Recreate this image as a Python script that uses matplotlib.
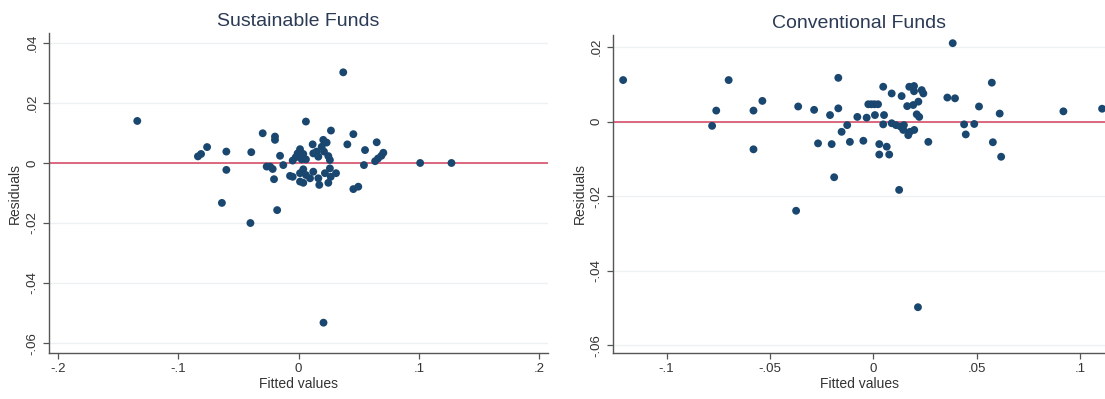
import numpy as np
import matplotlib
matplotlib.use('Agg')
import matplotlib.pyplot as plt

plt.rcParams['font.family'] = ['Liberation Sans', 'DejaVu Sans']

# Sustainable funds: fitted values / residuals
sus_fit = [-0.134, 0.0371, 0.0061, -0.0298, -0.0196, -0.0196, 0.0269, 0.0455, 0.0405,
           0.0649, 0.0552, 0.0543, -0.0393, -0.0154, -0.0127, -0.0265, -0.0237, -0.0215,
           -0.0204, 0.0117, 0.0205, 0.0233, 0.0192, 0.015, 0.0211, 0.0247, 0.0164, 0.026,
           0.0122, 0.0012, -0.0008, 0.0039, -0.0024, 0.0026, -0.0049, 0.0061, -0.0071,
           -0.0049, 0.0039, 0.0012, 0.0061, 0.0012, 0.0039, 0.0095, 0.0122, 0.0164, 0.0172,
           0.0247, 0.0267, 0.0311, 0.026, 0.0219, 0.0455, 0.0496, 0.0636, 0.066, 0.0688,
           0.0704, -0.0836, -0.081, -0.076, -0.060, -0.060, -0.0637, -0.040, -0.0178,
           0.0207, 0.101, 0.127]
sus_res = [0.014, 0.0302, 0.0138, 0.0099, 0.0088, 0.0077, 0.0108, 0.0096, 0.0062,
           0.0069, 0.0043, -0.0007, 0.0036, 0.0024, -0.0007, -0.0012, -0.0012, -0.002,
           -0.0054, 0.0062, 0.0077, 0.0068, 0.0054, 0.0038, 0.0038, 0.0023, 0.0021, 0.001,
           0.0032, 0.0046, 0.0032, 0.003, 0.0019, 0.0012, 0.0008, 0.0012, -0.0043,
           -0.0046, -0.0021, -0.0034, -0.004, -0.0062, -0.0066, -0.0051, -0.0029, -0.0051,
           -0.0073, -0.0066, -0.0046, -0.0034, -0.0018, -0.0034, -0.0087, -0.0079, 0.0006,
           0.0015, 0.0024, 0.0034, 0.0022, 0.003, 0.0053, 0.0038, -0.0023, -0.0133, -0.020,
           -0.0157, -0.0532, 0.0, 0.0]

# Conventional funds
con_fit = [-0.121, -0.070, -0.076, -0.078, -0.058, -0.0537, -0.058, -0.0364, -0.0287,
           -0.019, 0.0124, 0.0383, 0.051, 0.0572, 0.0577, 0.061, 0.0617, 0.0918, 0.1105,
           -0.0374, 0.0215, 0.0487, -0.017, 0.0047, 0.0088, 0.0136, 0.0173, 0.0196, 0.0196,
           0.0233, 0.0241, 0.0217, 0.0192, 0.0163, 0.0209, 0.0221, 0.0357, 0.0394, 0.0438,
           0.0446, -0.0025, -0.001, 0.0005, 0.0022, 0.0007, -0.0033, -0.0078, 0.0051,
           0.0047, 0.0088, 0.0109, 0.0131, 0.0147, 0.0144, 0.0168, 0.0176, 0.0197, -0.0127,
           -0.0154, -0.021, -0.017, -0.0268, -0.0202, -0.0114, -0.0049, 0.0028, 0.0064,
           0.0076, 0.0028, 0.0265]
con_res = [0.0112, 0.0112, 0.003, -0.0011, 0.003, 0.0056, -0.0074, 0.0041, 0.0032,
           -0.0149, -0.0183, 0.0211, 0.0041, 0.0105, -0.0055, 0.0022, -0.0094, 0.0028,
           0.0035, -0.0239, -0.0498, -0.0006, 0.0118, 0.0094, 0.0076, 0.0069, 0.0094, 0.0096,
           0.0082, 0.0085, 0.0076, 0.0054, 0.0045, 0.0042, 0.002, 0.0013, 0.0065, 0.0063,
           -0.0007, -0.0034, 0.0047, 0.0047, 0.0047, 0.0047, 0.0018, 0.0011, 0.0013, 0.0018,
           -0.0007, -0.0004, -0.0009, -0.0013, -0.0009, -0.0022, -0.0036, -0.0027, -0.0022,
           -0.0009, -0.0027, 0.0018, 0.0036, -0.0058, -0.006, -0.0054, -0.0051, -0.006,
           -0.0067, -0.0088, -0.0088, -0.0054]

titles = ['Sustainable Funds', 'Conventional Funds']
sus_xticks = [-0.2, -0.1, 0, 0.1, 0.2]
sus_xlabels = ['-.2', '-.1', '0', '.1', '.2']
sus_yticks = [-0.06, -0.04, -0.02, 0, 0.02, 0.04]
sus_ylabels = ['-.06', '-.04', '-.02', '0', '.02', '.04']
con_xticks = [-0.1, -0.05, 0, 0.05, 0.1]
con_xlabels = ['-.1', '-.05', '0', '.05', '.1']
con_yticks = [-0.06, -0.04, -0.02, 0, 0.02]
con_ylabels = ['-.06', '-.04', '-.02', '0', '.02']

navy = '#1a476f'
fig = plt.figure(figsize=(11.05, 3.99), dpi=100)
ax1 = fig.add_axes([48.9/1105, 46/399, 499/1105, 320/399])
ax2 = fig.add_axes([613/1105, 46/399, 492/1105, 318/399])

def style(ax, fit, res, title, xt, xl, yt, yl, xlim, ylim):
    ax.set_xlim(xlim)
    ax.set_ylim(ylim)
    for y in yt:
        ax.axhline(y, color='#eef1f3', lw=1.0, zorder=0)
    ax.axhline(0, color='#d8506a', lw=1.2, zorder=1)
    ax.scatter(fit, res, s=32, color=navy, edgecolors='none', zorder=3)
    ax.set_xticks(xt)
    ax.set_xticklabels(xl)
    ax.set_yticks(yt)
    ax.set_yticklabels(yl, rotation=90, va='center')
    ax.tick_params(axis='both', labelsize=9.5, colors='#555555', labelcolor='#333333',
                   length=4.5, width=0.9, pad=3)
    for s in ['top', 'right']:
        ax.spines[s].set_visible(False)
    for s in ['left', 'bottom']:
        ax.spines[s].set_color('#555555')
        ax.spines[s].set_linewidth(1.0)
    ax.set_xlabel('Fitted values', fontsize=10, color='#333333', labelpad=1)
    ax.set_ylabel('Residuals', fontsize=10, color='#333333', labelpad=3)
    ax.set_title(title, fontsize=14, color='#2b3a55', pad=5)

style(ax1, sus_fit, sus_res, titles[0], sus_xticks, sus_xlabels, sus_yticks, sus_ylabels,
      (-0.2074, 0.2071), (-0.0633, 0.0433))
style(ax2, con_fit, con_res, titles[1], con_xticks, con_xlabels, con_yticks, con_ylabels,
      (-0.1259, 0.1119), (-0.0621, 0.0233))

fig.savefig('out.png', dpi=100)
